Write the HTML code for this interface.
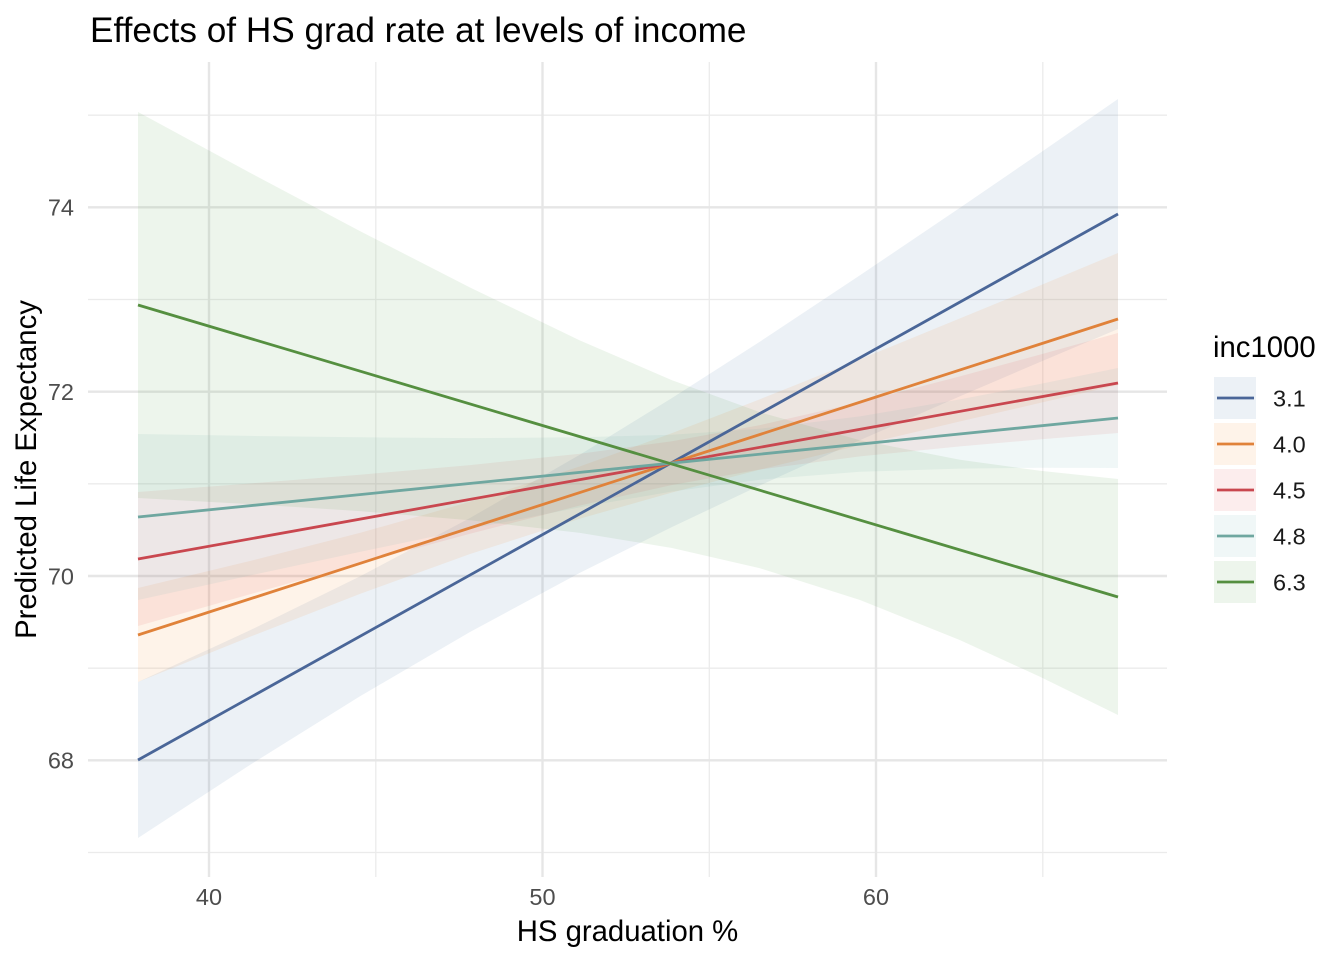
<!DOCTYPE html>
<html>
<head>
<meta charset="utf-8">
<style>
  html, body { margin: 0; padding: 0; background: #ffffff; }
  svg { display: block; }
  text { font-family: "Liberation Sans", Arial, Helvetica, sans-serif; }
</style>
</head>
<body>
<svg width="1344" height="960" viewBox="0 0 1344 960" xmlns="http://www.w3.org/2000/svg">
  <rect x="0" y="0" width="1344" height="960" fill="#ffffff"/>

  <!-- minor gridlines -->
  <g stroke="#EBEBEB" stroke-width="1.3" fill="none">
    <line x1="88" y1="115.2" x2="1167" y2="115.2"/>
    <line x1="88" y1="299.5" x2="1167" y2="299.5"/>
    <line x1="88" y1="483.8" x2="1167" y2="483.8"/>
    <line x1="88" y1="668.2" x2="1167" y2="668.2"/>
    <line x1="88" y1="852.5" x2="1167" y2="852.5"/>
    <line x1="375.8" y1="62" x2="375.8" y2="877"/>
    <line x1="709.3" y1="62" x2="709.3" y2="877"/>
    <line x1="1042.8" y1="62" x2="1042.8" y2="877"/>
  </g>
  <!-- major gridlines -->
  <g stroke="#E6E6E6" stroke-width="2.4" fill="none">
    <line x1="88" y1="207.3" x2="1167" y2="207.3"/>
    <line x1="88" y1="391.7" x2="1167" y2="391.7"/>
    <line x1="88" y1="576" x2="1167" y2="576"/>
    <line x1="88" y1="760.3" x2="1167" y2="760.3"/>
    <line x1="209" y1="62" x2="209" y2="877"/>
    <line x1="542.5" y1="62" x2="542.5" y2="877"/>
    <line x1="876" y1="62" x2="876" y2="877"/>
  </g>

  <!-- ribbons -->
  <polygon fill="#4E79A7" fill-opacity="0.105" points="138,682 250,630.3 360,576.4 470,518 580,454.6 672,398 760,341.6 860,275.3 960,207.7 1040,153 1118,99 1118,329 1040,362 960,396.3 860,440.1 760,485.4 672,527 580,572.8 470,632 360,696.2 250,764.9 138,838"/>
  <polygon fill="#F28E2B" fill-opacity="0.105" points="138,588 250,561 360,532.9 470,501.8 580,466.4 672,433.1 760,399.2 860,359.3 960,318.4 1040,285.5 1118,253 1118,385 1040,402.9 960,421.4 860,445.1 760,469.6 672,492.5 580,518.6 470,554 360,593.9 250,636.8 138,682"/>
  <polygon fill="#E15759" fill-opacity="0.105" points="138,492 250,483.5 360,474.7 470,465.1 580,453.7 672,441.2 760,425.1 860,402.2 960,376.4 1040,354.6 1118,333 1118,433 1040,439.4 960,446.4 860,456.4 760,469.5 672,485 580,505.5 470,533.7 360,563.5 250,594.3 138,626"/>
  <polygon fill="#76B7B2" fill-opacity="0.105" points="138,434 250,435.9 360,437.3 470,438.1 580,437.3 672,434.7 760,428.7 860,416.4 960,399.4 1040,384 1118,368 1118,468 1040,467.8 960,468.6 860,471.8 760,479.7 672,491.5 580,507.3 470,528.9 360,551.9 250,575.5 138,600"/>
  <polygon fill="#59A14F" fill-opacity="0.105" points="138,112 250,172.7 360,231.1 470,287.5 580,340.5 672,380.2 760,412.3 860,440.2 960,459.7 1040,470.8 1118,479 1118,715 1040,676.8 960,640.1 860,600 760,568.3 672,548 580,532.9 470,520.3 360,511.1 250,504.1 138,498"/>

  <!-- lines -->
  <g stroke-width="2.8" fill="none" stroke-linecap="butt">
    <line x1="138" y1="760" x2="1118" y2="214" stroke="#4A6698"/>
    <line x1="138" y1="635" x2="1118" y2="319" stroke="#E0823A"/>
    <line x1="138" y1="559" x2="1118" y2="383" stroke="#C9474F"/>
    <line x1="138" y1="517" x2="1118" y2="418" stroke="#6FA7A0"/>
    <line x1="138" y1="305" x2="1118" y2="597" stroke="#558F40"/>
  </g>

  <!-- y tick labels -->
  <g fill="#4D4D4D" font-size="23.5" text-anchor="end">
    <text x="74" y="215.7">74</text>
    <text x="74" y="400.1">72</text>
    <text x="74" y="584.4">70</text>
    <text x="74" y="768.7">68</text>
  </g>
  <!-- x tick labels -->
  <g fill="#4D4D4D" font-size="23.5" text-anchor="middle">
    <text x="209" y="905">40</text>
    <text x="542.5" y="905">50</text>
    <text x="876" y="905">60</text>
  </g>

  <!-- axis titles -->
  <text x="627.5" y="941" font-size="29.3" text-anchor="middle" fill="#000000">HS graduation %</text>
  <text x="0" y="0" font-size="29.3" text-anchor="middle" fill="#000000" transform="translate(36,469.5) rotate(-90)">Predicted Life Expectancy</text>

  <!-- title -->
  <text x="90" y="42" font-size="35.2" fill="#000000">Effects of HS grad rate at levels of income</text>

  <!-- legend -->
  <text x="1213" y="357" font-size="29.3" fill="#000000">inc1000</text>
  <g>
    <rect x="1214" y="377" width="42" height="42" fill="#4E79A7" fill-opacity="0.105"/>
    <line x1="1217" y1="398" x2="1254" y2="398" stroke="#4A6698" stroke-width="2.8"/>
    <rect x="1214" y="423" width="42" height="42" fill="#F28E2B" fill-opacity="0.105"/>
    <line x1="1217" y1="444" x2="1254" y2="444" stroke="#E0823A" stroke-width="2.8"/>
    <rect x="1214" y="469" width="42" height="42" fill="#E15759" fill-opacity="0.105"/>
    <line x1="1217" y1="490" x2="1254" y2="490" stroke="#C9474F" stroke-width="2.8"/>
    <rect x="1214" y="515" width="42" height="42" fill="#76B7B2" fill-opacity="0.105"/>
    <line x1="1217" y1="536" x2="1254" y2="536" stroke="#6FA7A0" stroke-width="2.8"/>
    <rect x="1214" y="561" width="42" height="42" fill="#59A14F" fill-opacity="0.105"/>
    <line x1="1217" y1="582" x2="1254" y2="582" stroke="#558F40" stroke-width="2.8"/>
  </g>
  <g fill="#1A1A1A" font-size="23.5">
    <text x="1273" y="406.4">3.1</text>
    <text x="1273" y="452.4">4.0</text>
    <text x="1273" y="498.4">4.5</text>
    <text x="1273" y="544.4">4.8</text>
    <text x="1273" y="590.4">6.3</text>
  </g>
</svg>
</body>
</html>
